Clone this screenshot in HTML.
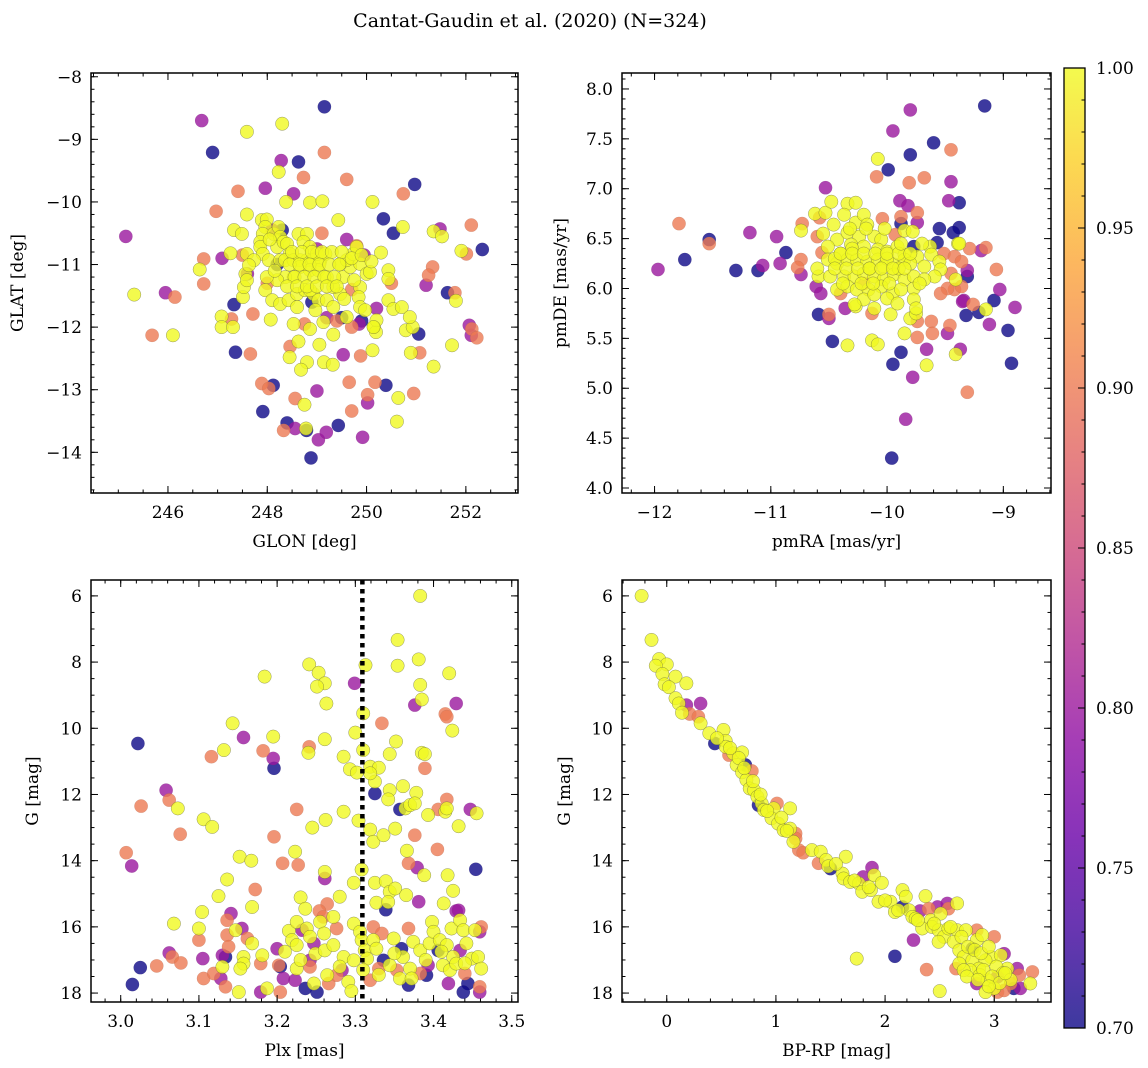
<!DOCTYPE html>
<html><head><meta charset="utf-8">
<style>
html,body{margin:0;padding:0;background:#fff;}
svg{display:block;font-family:"DejaVu Serif","Liberation Serif",serif;}
</style></head>
<body>
<svg id="fig" width="1148" height="1068" viewBox="0 0 1148 1068" xmlns="http://www.w3.org/2000/svg">
<defs>
<linearGradient id="plasmaGrad" x1="0" y1="1" x2="0" y2="0">
<stop offset="0" stop-color="#0d0887"/><stop offset="0.1" stop-color="#41049d"/><stop offset="0.2" stop-color="#6a00a8"/><stop offset="0.3" stop-color="#8f0da4"/><stop offset="0.4" stop-color="#b12a90"/><stop offset="0.5" stop-color="#cc4778"/><stop offset="0.6" stop-color="#e16462"/><stop offset="0.7" stop-color="#f2844b"/><stop offset="0.8" stop-color="#fca636"/><stop offset="0.9" stop-color="#fcce25"/><stop offset="1" stop-color="#f0f921"/>
</linearGradient>
</defs>
<text x="530" y="27" font-size="19" text-anchor="middle">Cantat-Gaudin et al. (2020) (N=324)</text>
</svg>
<script>
// ---------- DATA ----------
const groupProb = [0.70, 0.80, 0.90, 1.00];

// Panel 1: GLON / GLAT
const p1BlueX = [249.15,246.90,248.63,250.97,250.34,250.54,252.33,251.63,251.05,247.33,247.36,248.12,247.91,250.39,249.43,248.40,248.79,248.88,248.3,248.2,249.9,249.5,248.9];
const p1BlueY = [-8.48,-9.21,-9.36,-9.72,-10.27,-10.50,-10.76,-11.45,-12.11,-11.64,-12.40,-12.93,-13.35,-12.93,-13.57,-13.53,-13.65,-14.09,-10.45,-11.0,-11.9,-11.85,-11.6];
const p1PurpleX = [246.68,248.28,247.96,248.53,251.48,245.15,247.09,245.95,251.2,252.07,252.11,249.53,249.0,250.02,248.56,249.03,249.19,249.92,249.6,249.95,249.0,248.1,250.2,249.85,247.6,249.2];
const p1PurpleY = [-8.70,-9.34,-9.78,-9.87,-10.43,-10.55,-10.90,-11.45,-11.33,-11.97,-12.13,-12.44,-13.02,-13.21,-13.62,-13.8,-13.68,-13.76,-10.6,-10.85,-10.75,-10.45,-11.7,-11.95,-11.15,-11.85];
const p1SalmonX = [249.15,248.73,249.60,247.41,250.74,246.97,252.11,252.01,246.72,246.72,246.14,245.68,251.33,251.25,251.78,252.12,252.22,251.07,247.28,247.66,247.71,248.46,249.88,247.89,248.03,248.56,249.65,250.17,250.02,250.95,249.70,248.33,249.1,249.8,248.0,249.7,247.5,250.5,249.4,249.7,248.75];
const p1SalmonY = [-9.21,-9.61,-9.64,-9.83,-9.87,-10.15,-10.37,-10.83,-10.91,-11.31,-11.52,-12.13,-11.04,-11.17,-11.45,-12.03,-12.17,-12.41,-11.87,-12.43,-11.79,-12.31,-12.46,-12.9,-12.98,-13.14,-12.88,-12.88,-13.08,-13.06,-13.34,-13.65,-10.5,-10.7,-11.3,-11.4,-10.85,-11.3,-11.9,-12.0,-11.95];
const p1YellowX = [248.30,247.59,248.23,248.86,249.11,250.12,248.38,247.59,249.43,250.73,251.35,251.52,251.91,250.29,246.64,245.32,246.10,251.8,251.72,250.79,250.93,250.89,251.35,247.51,247.08,247.08,247.31,248.07,248.45,248.63,248.80,248.68,249.05,249.14,249.32,249.33,250.12,250.15,250.19,248.75,250.64,250.61,248.78,
247.89,247.99,247.96,247.91,247.86,247.86,247.91,248.03,248.13,248.23,248.26,248.20,248.33,248.40,248.45,248.26,248.36,248.53,248.66,248.80,248.93,249.07,248.63,248.80,248.73,248.86,249.00,249.17,248.66,248.86,249.03,249.20,248.53,248.36,248.20,247.99,247.96,248.10,248.26,248.43,248.60,248.76,248.93,249.03,249.20,249.33,249.47,249.33,249.53,249.67,249.47,249.60,249.73,249.80,249.87,250.0,250.07,250.44,250.44,250.44,250.54,250.71,250.87,250.20,250.14,249.87,249.84,249.87,249.97,249.60,249.13,248.97,248.86,248.60,248.53,248.86,247.59,247.73,247.56,247.53,247.59,247.33,247.49,247.26,247.63,
248.5,248.7,248.9,249.1,249.3,249.5,248.45,248.65,248.85,249.05,249.25,249.45,248.55,248.75,248.95,249.15,249.35,248.4,248.6,248.8,249.0,249.2,249.4,248.15,248.05,249.7,249.9,250.1,249.55,249.75];
const p1YellowY = [-8.75,-8.88,-9.52,-10.01,-9.99,-10.0,-10.0,-10.2,-10.29,-10.40,-10.47,-10.55,-10.78,-10.81,-11.08,-11.48,-12.13,-11.58,-12.29,-12.05,-12.0,-12.41,-12.63,-11.52,-11.83,-12.0,-12.0,-11.88,-12.48,-12.23,-12.56,-12.68,-12.28,-12.56,-12.6,-12.12,-12.37,-12.0,-12.08,-13.24,-13.13,-13.51,-13.62,
-10.29,-10.28,-10.40,-10.51,-10.64,-10.72,-10.83,-10.93,-10.51,-10.40,-10.56,-10.72,-10.64,-10.67,-10.83,-10.93,-10.93,-10.93,-10.93,-10.93,-10.93,-10.93,-10.51,-10.51,-10.64,-10.72,-10.83,-10.83,-11.04,-11.09,-11.09,-11.20,-11.20,-11.20,-11.25,-11.20,-11.41,-11.57,-11.63,-11.57,-11.47,-11.41,-11.47,-11.57,-11.57,-11.68,-11.47,-11.36,-11.20,-11.04,-10.99,-10.93,-10.83,-10.72,-10.99,-11.15,-11.12,-11.09,-11.23,-11.57,-11.71,-11.68,-11.84,-11.89,-12.0,-11.36,-11.52,-11.68,-11.73,-11.84,-11.92,-11.73,-11.41,-11.68,-11.95,-12.03,-10.83,-10.93,-11.15,-11.36,-11.25,-10.45,-10.51,-10.82,-11.01,
-10.8,-10.8,-10.8,-10.8,-10.8,-10.8,-11.0,-11.0,-11.0,-11.0,-11.0,-11.0,-11.2,-11.2,-11.2,-11.2,-11.2,-11.35,-11.35,-11.35,-11.35,-11.35,-11.35,-11.1,-10.6,-10.9,-10.85,-10.95,-11.55,-11.25];

// Panel 2: pmRA / pmDE
const p2BlueX = [-9.16,-9.60,-9.80,-9.99,-9.38,-9.55,-9.38,-9.43,-9.57,-11.53,-10.87,-11.74,-11.30,-11.11,-9.08,-8.96,-8.93,-9.21,-9.32,-9.88,-9.95,-9.96,-10.59,-10.47,-9.31,-9.77,-9.88];
const p2BlueY = [7.83,7.46,7.34,7.19,6.86,6.60,6.61,6.56,6.46,6.49,6.36,6.29,6.18,6.18,5.88,5.58,5.25,5.76,5.73,5.36,5.24,4.30,5.74,5.47,6.12,6.42,6.65];
const p2PurpleX = [-9.80,-9.95,-9.45,-10.53,-9.47,-9.89,-9.82,-9.74,-9.19,-11.18,-10.95,-11.97,-11.07,-10.92,-10.74,-9.03,-8.90,-9.12,-9.34,-9.48,-9.37,-9.66,-9.78,-9.84,-10.50,-10.36,-10.61,-10.57,-9.35,-9.31];
const p2PurpleY = [7.79,7.58,7.07,7.01,6.88,6.88,6.83,6.66,6.38,6.56,6.52,6.19,6.23,6.25,6.14,5.99,5.81,5.64,5.88,5.55,5.39,5.39,5.11,4.69,5.70,5.80,6.02,5.95,5.87,6.18];
const p2SalmonX = [-9.45,-10.09,-9.68,-9.81,-9.74,-9.88,-10.04,-11.79,-9.15,-9.29,-11.53,-10.74,-10.77,-9.06,-9.26,-9.46,-9.62,-9.61,-9.74,-9.31,-10.50,-10.13,-9.74,-9.42,-9.36,-9.48,-9.54,-9.45,-9.51,-9.42,-9.36,-10.73,-10.60,-10.56,-10.58,-9.93,-10.4,-10.2];
const p2SalmonY = [7.39,7.12,7.11,7.06,6.76,6.72,6.70,6.65,6.41,6.40,6.45,6.29,6.21,6.19,5.84,5.63,5.67,5.55,5.51,4.96,5.74,5.75,5.67,5.99,6.02,6.00,5.95,6.15,6.35,6.32,6.27,6.65,6.52,6.36,6.71,6.54,5.95,6.05];
const p2YellowX = [-10.08,-9.39,-9.15,-9.41,-9.66,-10.34,-10.13,-10.08,-9.85,-10.27,-10.11,-9.97,-9.80,-9.75,-9.63,-10.74,-10.62,-10.53,-10.48,-10.34,-10.27,-9.85,-9.78,
-10.46,-10.37,-10.27,-10.20,-10.17,-10.43,-10.34,-10.24,-10.11,-10.05,-10.51,-10.40,-10.31,-10.20,-10.08,-10.00,-9.91,-9.85,-9.74,-9.62,-9.55,-9.54,-10.51,-10.43,-10.34,-10.26,-10.17,-10.08,-10.03,-9.94,-9.85,-9.80,-9.68,-9.59,-10.59,-10.49,-10.37,-10.28,-10.20,-10.11,-10.03,-9.94,-9.85,-9.77,-9.68,-10.43,-10.34,-10.26,-10.16,-10.05,-9.95,-9.88,-9.77,-10.20,-10.11,-10.00,-9.91,-10.28,-9.77,-9.75,-9.41,-9.38,-10.45,-10.3,-10.0,-9.9,-10.15,-10.6,
-10.4,-10.3,-10.2,-10.1,-10.0,-9.9,-9.8,-10.45,-10.35,-10.25,-10.15,-10.05,-9.95,-9.85,-10.38,-10.22,-10.12,-9.98,-9.72,-10.55,-10.32,-10.18,-10.02,-9.88,-9.7];
const p2YellowY = [7.30,6.45,5.79,5.34,5.23,5.43,5.48,5.44,5.55,5.82,5.80,5.74,5.70,5.75,6.42,6.58,6.75,6.76,6.87,6.85,6.86,6.58,6.57,
6.64,6.74,6.66,6.74,6.64,6.49,6.56,6.52,6.52,6.49,6.42,6.35,6.44,6.42,6.39,6.37,6.42,6.34,6.32,6.34,6.27,6.19,6.29,6.25,6.29,6.29,6.27,6.29,6.22,6.24,6.29,6.25,6.22,6.12,6.12,6.12,6.12,6.12,6.15,6.12,6.09,6.14,6.09,6.12,6.09,5.99,6.02,5.99,5.99,6.02,5.95,5.99,6.00,5.89,5.94,5.90,5.85,5.84,5.89,5.80,6.09,6.45,6.30,6.40,6.30,6.20,6.20,6.20,
6.35,6.35,6.35,6.35,6.35,6.35,6.35,6.2,6.2,6.2,6.2,6.2,6.2,6.2,6.05,6.05,6.05,6.05,6.05,6.55,6.6,6.6,6.6,6.45,6.45];

// Panel 3: Plx / G
const plxRef = [3.309];
const p3BlueX = [3.022,3.196,3.325,3.357,3.454,3.339,3.025,3.015,3.134,3.336,3.359,3.368,3.391,3.406,3.444,3.438,3.236,3.251,3.204];
const p3BlueY = [10.46,11.21,11.97,12.45,14.26,15.48,17.23,17.74,16.91,17.01,16.66,17.76,17.46,16.71,17.71,17.97,17.86,17.97,17.2];
const p3PurpleX = [3.299,3.376,3.429,3.157,3.195,3.058,3.447,3.014,3.379,3.261,3.381,3.429,3.141,3.232,3.155,3.247,3.130,3.128,3.105,3.200,3.179,3.208,3.223,3.242,3.283,3.393,3.419,3.432,3.434,3.459,3.459,3.062];
const p3PurpleY = [8.64,9.30,9.25,10.28,10.91,11.87,12.45,14.16,14.21,14.54,15.24,15.52,15.60,16.10,16.05,16.50,16.86,17.56,16.96,16.66,17.97,17.56,17.61,17.01,17.31,17.16,17.71,15.50,16.71,16.15,17.97,16.79];
const p3SalmonX = [3.334,3.415,3.417,3.116,3.182,3.241,3.389,3.406,3.417,3.026,3.062,3.076,3.225,3.196,3.376,3.405,3.007,3.207,3.227,3.368,3.172,3.264,3.254,3.100,3.136,3.162,3.136,3.138,3.134,3.106,3.119,3.179,3.202,3.204,3.066,3.077,3.046,3.276,3.259,3.242,3.266,3.276,3.319,3.323,3.334,3.330,3.353,3.368,3.383,3.440,3.461,3.459];
const p3SalmonY = [9.85,9.57,9.65,10.86,10.68,10.56,11.21,12.45,12.15,12.35,12.17,13.20,12.45,13.28,13.23,13.66,13.76,14.08,14.13,14.08,14.87,15.31,15.52,16.40,15.80,16.35,16.25,16.60,17.81,17.56,17.41,17.11,17.16,17.97,16.91,17.09,17.18,16.05,15.70,17.21,17.71,17.46,17.61,16.0,16.2,17.26,17.31,16.05,17.41,17.41,16.0,17.81];
const p3YellowX = [3.383,3.354,3.241,3.253,3.261,3.251,3.184,3.313,3.354,3.381,3.420,3.383,3.385,3.424,3.263,3.310,3.143,3.195,3.132,3.240,3.261,3.300,3.310,3.285,3.293,3.302,3.319,3.330,3.325,3.319,3.352,3.344,3.385,3.389,3.344,3.342,3.361,3.378,3.364,3.370,3.376,3.393,3.415,3.417,3.455,3.432,3.073,3.106,3.117,3.245,3.262,3.285,3.304,3.319,3.323,3.336,3.351,3.366,3.152,3.167,3.223,3.261,3.308,3.298,3.325,3.339,3.344,3.351,3.388,3.418,3.425,3.136,3.125,3.168,3.104,3.230,3.236,3.280,3.327,3.342,3.365,3.413,
3.068,3.100,3.147,3.168,3.130,3.157,3.157,3.153,3.181,3.187,3.151,3.215,3.219,3.225,3.238,3.242,3.225,3.249,3.261,3.272,3.272,3.255,3.225,3.247,3.264,3.291,3.295,3.285,3.298,3.298,3.306,3.308,3.312,3.315,3.323,3.327,3.344,3.349,3.357,3.361,3.370,3.372,3.374,3.383,3.395,3.398,3.400,3.408,3.412,3.417,3.421,3.423,3.425,3.429,3.434,3.438,3.442,3.449,3.453,3.457,3.461,
3.21,3.23,3.26,3.28,3.35,3.39,3.41,3.44,3.31,3.33];
const p3YellowY = [6.0,7.33,8.07,8.32,8.64,8.74,8.44,8.09,8.11,7.92,8.34,8.69,9.13,10.07,9.25,9.55,9.85,10.25,10.66,10.74,10.33,10.13,10.66,10.86,11.24,11.34,11.16,11.19,11.61,11.36,10.40,10.78,10.74,10.78,11.87,12.15,11.75,11.95,12.42,12.32,12.27,12.62,12.52,12.42,12.57,12.96,12.42,12.75,12.98,13.0,12.77,12.52,12.79,13.06,13.43,13.23,13.03,13.70,13.88,14.0,13.73,14.34,14.27,14.67,14.67,14.62,14.94,14.84,14.44,14.44,14.91,14.57,15.07,15.40,15.55,15.11,15.45,15.09,15.27,15.25,15.04,15.29,
15.90,16.05,16.10,16.50,17.21,16.91,17.11,17.26,16.86,17.86,17.97,16.12,16.40,15.85,16.05,16.30,16.55,16.81,16.71,16.55,15.70,15.85,17.26,17.71,17.46,17.66,17.94,16.91,17.01,15.90,16.15,16.40,16.71,16.96,16.40,16.66,17.16,16.35,17.56,16.91,17.26,17.56,16.45,16.71,16.50,15.85,16.15,16.40,17.16,16.55,17.31,16.05,16.91,17.11,15.80,16.10,16.50,16.96,16.10,16.91,17.26,
16.75,17.0,16.2,17.2,16.8,17.0,16.75,17.1,17.3,17.45];

// Panel 4: BP-RP / G
const p4BlueX = [0.44,0.72,0.84,1.50,2.16,2.80,3.18,2.09];
const p4BlueY = [10.46,11.11,12.32,14.24,15.40,16.66,17.86,16.89];
const p4PurpleX = [0.18,0.31,1.80,1.88,2.32,2.48,2.57,3.09,2.84,3.03,3.21,3.24,2.26];
const p4PurpleY = [9.30,9.25,14.49,14.21,15.52,15.40,15.29,16.81,17.71,17.51,17.26,17.86,16.40];
const p4SalmonX = [0.21,0.29,0.57,0.78,1.01,1.18,1.18,1.21,1.25,1.39,2.40,2.58,2.65,2.84,3.00,3.23,3.35,3.15,3.03,3.09,2.38];
const p4SalmonY = [9.57,9.65,10.81,11.29,12.27,13.18,13.33,13.68,13.76,14.08,15.45,15.45,17.26,16.10,16.30,17.46,17.36,17.71,17.97,17.92,17.29];
const p4YellowX = [-0.23,-0.14,-0.07,0,-0.10,-0.04,0.08,0.18,-0.02,0.02,0.08,0.11,0.14,0.31,0.39,0.52,0.54,0.54,0.61,0.69,0.64,0.69,0.73,0.76,0.80,0.83,0.87,0.89,0.98,1.13,0.96,1.02,1.07,1.13,1.16,1.33,1.41,1.46,1.48,1.64,1.61,1.62,1.68,1.76,1.90,1.97,1.79,1.87,1.94,2.05,2.09,2.16,2.19,2.22,2.25,2.28,2.37,2.42,2.51,2.66,2.34,2.43,2.49,2.54,2.49,2.58,2.66,2.74,2.63,2.68,2.72,2.84,2.89,2.80,2.97,3.06,2.92,2.86,2.78,2.68,2.72,2.87,2.94,3.12,3.33,3.00,2.92,1.74,2.50,
0.46,0.58,0.66,0.71,0.79,0.86,0.92,1.05,1.10,1.55,1.72,1.85,2.00,2.12,2.30,2.45,2.60,2.70,2.76,2.82,2.88,2.95,3.02,3.08,3.15,2.90,2.98,3.05,3.10,2.75,2.85,2.95];
const p4YellowY = [6.0,7.33,7.91,8.07,8.11,8.36,8.44,8.64,8.67,8.76,9.09,9.25,9.53,9.85,10.15,10.05,10.38,10.56,10.76,10.73,11.11,11.33,11.56,11.82,11.87,12.07,12.27,12.47,12.42,12.42,12.72,12.88,13.08,13.03,13.43,13.68,13.73,13.98,14.17,13.88,14.39,14.54,14.64,14.69,14.44,14.67,14.94,14.89,15.24,15.24,15.55,14.89,15.09,15.50,15.70,15.75,15.07,15.80,15.60,15.29,16.05,16.0,16.10,16.30,16.45,16.05,16.10,16.10,16.45,16.71,16.91,16.40,16.25,17.01,16.91,16.86,17.01,17.26,17.31,17.11,17.31,17.46,17.61,17.26,17.71,17.86,17.97,16.96,17.94,
10.3,10.6,10.9,11.2,11.6,12.0,12.5,12.7,13.1,14.1,14.6,14.8,15.2,15.5,15.8,15.9,16.0,16.3,16.6,16.7,16.8,16.6,17.2,17.4,17.6,17.3,17.5,17.7,17.4,17.5,17.6,17.8];

const cbTicks = [0.70, 0.75, 0.80, 0.85, 0.90, 0.95, 1.00];

// ---------- DRAWING ----------
const NS = 'http://www.w3.org/2000/svg';
const svg = document.getElementById('fig');
const plasma = ['#0d0887','#41049d','#6a00a8','#8f0da4','#b12a90','#cc4778','#e16462','#f2844b','#fca636','#fcce25','#f0f921'];
function hex(c){return [1,3,5].map(i=>parseInt(c.substr(i,2),16));}
function cmap(v){
  let t = Math.max(0, Math.min(1, (v-0.70)/0.30)) * 10;
  const i = Math.min(9, Math.floor(t)); const f = t - i;
  const a = hex(plasma[i]), b = hex(plasma[i+1]);
  return 'rgb(' + a.map((x,k)=>Math.round(x+(b[k]-x)*f)).join(',') + ')';
}
function mk(tag, attrs, parent){
  const e = document.createElementNS(NS, tag);
  for (const k in attrs) e.setAttribute(k, attrs[k]);
  (parent||svg).appendChild(e); return e;
}
function fmt(v, d){ const s = v.toFixed(d); return s.replace('-', '\u2212'); }
function range(a, b, step){
  const out = []; const n = Math.round((b-a)/step);
  for (let i=0;i<=n;i++) out.push(+(a+i*step).toFixed(6));
  return out;
}

function panel(cfg){
  const g = mk('g', {});
  
  
  const sx = v => cfg.px0 + (v - cfg.x0)/(cfg.x1 - cfg.x0)*(cfg.px1 - cfg.px0);
  const sy = v => cfg.py0 + (v - cfg.y0)/(cfg.y1 - cfg.y0)*(cfg.py1 - cfg.py0);
  const L = cfg.px0, R = cfg.px1, T = Math.min(cfg.py0,cfg.py1), B = Math.max(cfg.py0,cfg.py1);
  const pg = mk('g', {}, g);
  
  
  cfg.groups.forEach((grp, gi) => {
    const col = cmap(groupProb[gi]);
    grp[0].forEach((xv, i) => {
      const c = mk('circle', {cx: sx(xv).toFixed(1), cy: sy(grp[1][i]).toFixed(1), r: 6.7,
        fill: col, 'fill-opacity': 0.8, stroke: '#444', 'stroke-width': 0.5, 'stroke-opacity': gi===3?0.55:0.15}, pg);
      
      
    });
  });
  if (cfg.vline){
    const l = mk('line', {x1: sx(cfg.vline), x2: sx(cfg.vline), y1: T, y2: B, stroke: '#000', 'stroke-width': 4.5, 'stroke-dasharray': '4.5 4.5'}, g);
    
    
  }
  const tg = mk('g', {stroke: '#000', 'stroke-width': 1}, g);
  
  
  cfg.xminor.forEach(v => { const x = sx(v); if (x < L || x > R) return;
    mk('line', {x1:x,x2:x,y1:B,y2:B-3.5}, tg); mk('line', {x1:x,x2:x,y1:T,y2:T+3.5}, tg); });
  cfg.yminor.forEach(v => { const y = sy(v); if (y < T || y > B) return;
    mk('line', {x1:L,x2:L+3.5,y1:y,y2:y}, tg); mk('line', {x1:R,x2:R-3.5,y1:y,y2:y}, tg); });
  cfg.xmajor.forEach(v => { const x = sx(v);
    mk('line', {x1:x,x2:x,y1:B,y2:B-7}, tg); mk('line', {x1:x,x2:x,y1:T,y2:T+7}, tg);
    const t = mk('text', {x:x, y:B+25, 'font-size':17, 'text-anchor':'middle'}, g);
    t.textContent = fmt(v, cfg.xd);
    
    
  });
  cfg.ymajor.forEach(v => { const y = sy(v);
    mk('line', {x1:L,x2:L+7,y1:y,y2:y}, tg); mk('line', {x1:R,x2:R-7,y1:y,y2:y}, tg);
    const t = mk('text', {x:L-9, y:y+6, 'font-size':17, 'text-anchor':'end'}, g);
    t.textContent = fmt(v, cfg.yd);
    
    
  });
  const fr = mk('rect', {x:L, y:T, width:R-L, height:B-T, fill:'none', stroke:'#000', 'stroke-width':1.5}, g);
  
  
  const xl = mk('text', {x:(L+R)/2, y:B+54, 'font-size':17, 'text-anchor':'middle'}, g);
  xl.textContent = cfg.xlabel;
  
  
  const yx = cfg.ylx, yy = (T+B)/2;
  const yl = mk('text', {x:yx, y:yy, 'font-size':17, 'text-anchor':'middle', transform:'rotate(-90 '+yx+' '+yy+')'}, g);
  yl.textContent = cfg.ylabel;
  
  
}

panel({name:'panel-glon-glat', x0:244.45, x1:253.05, px0:91, px1:518, y0:-14.65, y1:-7.94, py0:493, py1:73,
  xmajor: range(246,252,2), xminor: range(244.5,253,0.5), ymajor: range(-14,-8,1), yminor: range(-14.6,-8,0.2), xd:0, yd:0,
  xlabel:'GLON [deg]', ylabel:'GLAT [deg]', ylx:23,
  groups:[[p1BlueX,p1BlueY],[p1PurpleX,p1PurpleY],[p1SalmonX,p1SalmonY],[p1YellowX,p1YellowY]]});
panel({name:'panel-pmra-pmde', x0:-12.28, x1:-8.59, px0:622, px1:1051, y0:3.95, y1:8.16, py0:493, py1:73,
  xmajor: range(-12,-9,1), xminor: range(-12.2,-8.6,0.2), ymajor: range(4,8,0.5), yminor: range(4,8.1,0.1), xd:0, yd:1,
  xlabel:'pmRA [mas/yr]', ylabel:'pmDE [mas/yr]', ylx:566,
  groups:[[p2BlueX,p2BlueY],[p2PurpleX,p2PurpleY],[p2SalmonX,p2SalmonY],[p2YellowX,p2YellowY]]});
panel({name:'panel-plx-g', x0:2.962, x1:3.508, px0:91, px1:518, y0:5.52, y1:18.27, py0:580, py1:1002,
  xmajor: range(3.0,3.5,0.1), xminor: range(2.98,3.5,0.02), ymajor: range(6,18,2), yminor: range(5.5,18,0.5), xd:1, yd:0,
  xlabel:'Plx [mas]', ylabel:'G [mag]', ylx:38, vline: plxRef[0],
  groups:[[p3BlueX,p3BlueY],[p3PurpleX,p3PurpleY],[p3SalmonX,p3SalmonY],[p3YellowX,p3YellowY]]});
panel({name:'panel-bprp-g', x0:-0.41, x1:3.52, px0:622, px1:1051, y0:5.52, y1:18.27, py0:580, py1:1002,
  xmajor: range(0,3,1), xminor: range(-0.4,3.4,0.2), ymajor: range(6,18,2), yminor: range(5.5,18,0.5), xd:0, yd:0,
  xlabel:'BP-RP [mag]', ylabel:'G [mag]', ylx:570,
  groups:[[p4BlueX,p4BlueY],[p4PurpleX,p4PurpleY],[p4SalmonX,p4SalmonY],[p4YellowX,p4YellowY]]});

(function(){
  const g = mk('g', {});
  
  
  const L = 1064, R = 1085, T = 68, B = 1028;
  const r = mk('rect', {x:L, y:T, width:R-L, height:B-T, fill:'url(#plasmaGrad)', 'fill-opacity':0.8}, g);
  
  
  const sy = v => B - (v-0.70)/0.30*(B-T);
  range(0.70,1.00,0.01).forEach(v => { mk('line', {x1:R, x2:R-3.5, y1:sy(v), y2:sy(v), stroke:'#000', 'stroke-width':1}, g); });
  cbTicks.forEach(v => {
    mk('line', {x1:R, x2:R-7, y1:sy(v), y2:sy(v), stroke:'#000', 'stroke-width':1}, g);
    const t = mk('text', {x:R+11, y:sy(v)+6, 'font-size':17}, g);
    t.textContent = v.toFixed(2);
    
    
  });
  mk('rect', {x:L, y:T, width:R-L, height:B-T, fill:'none', stroke:'#000', 'stroke-width':1.3}, g);
})();
</script>
</body></html>
